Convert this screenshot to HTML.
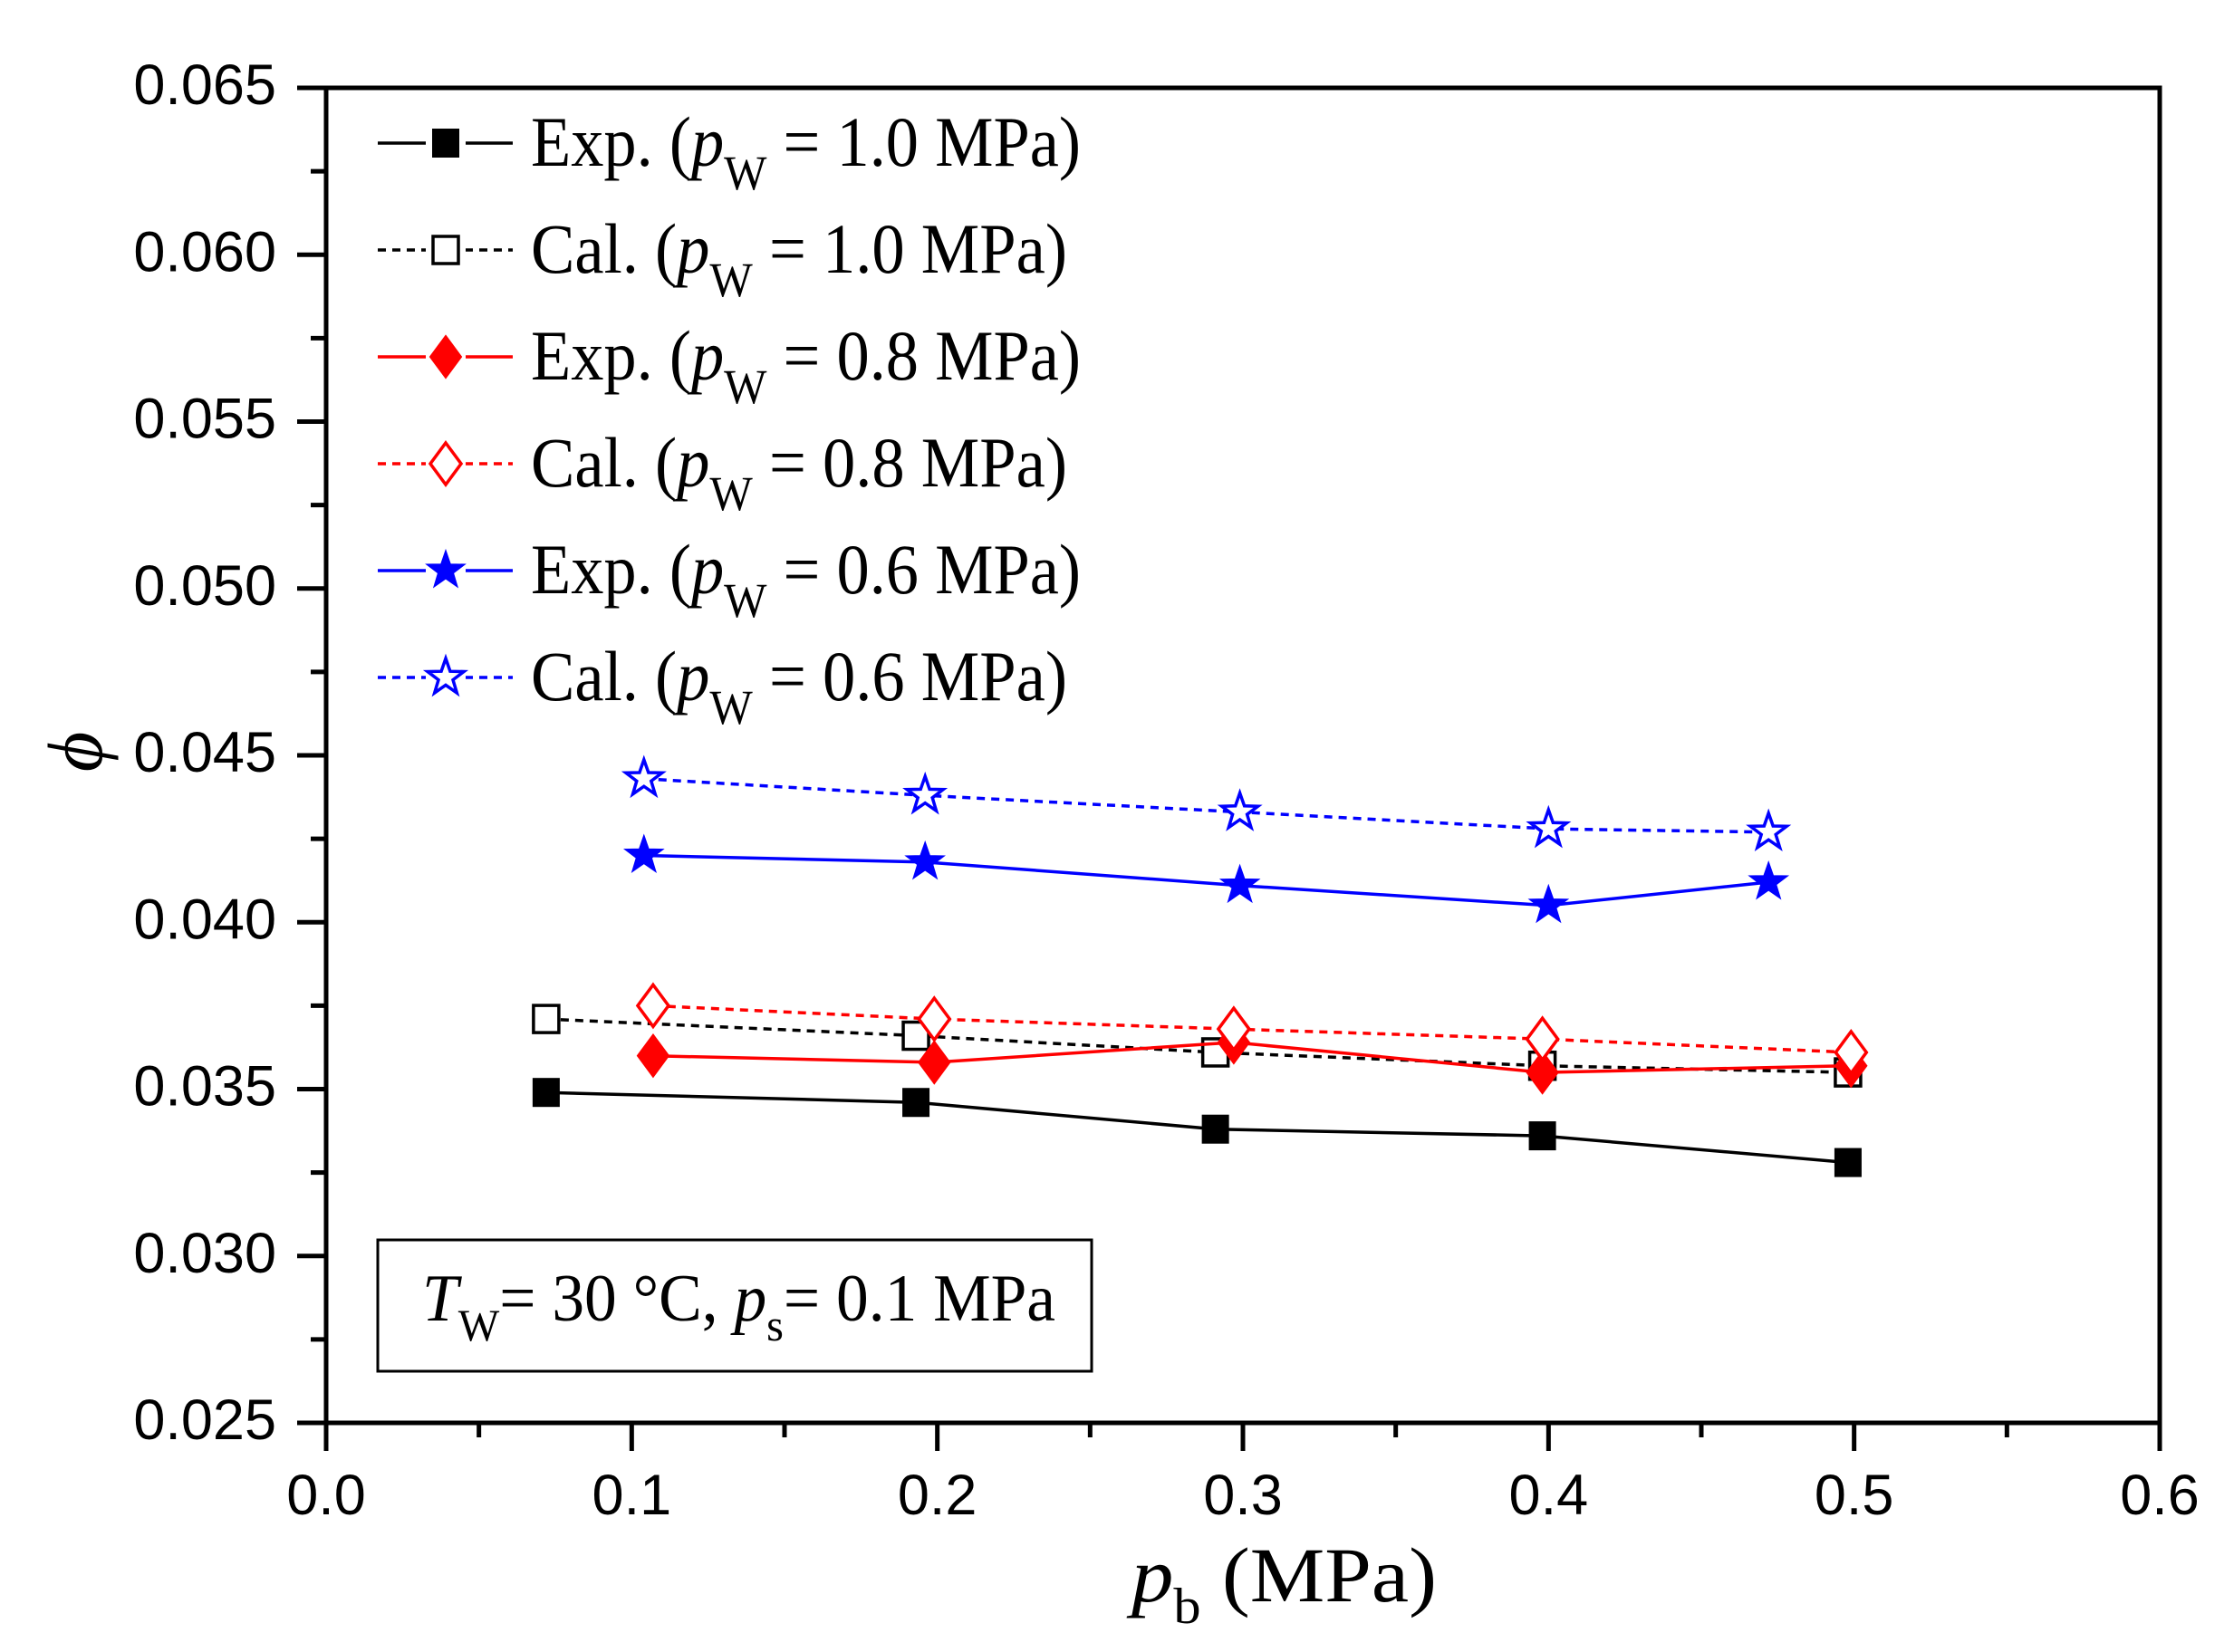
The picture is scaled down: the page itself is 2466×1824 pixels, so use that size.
<!DOCTYPE html>
<html><head><meta charset="utf-8"><style>
html,body{margin:0;padding:0;background:#fff;}
svg{display:block;}
.tk{font-family:"Liberation Sans",Arial,sans-serif;font-size:63px;fill:#000;}
.tm{font-family:"Liberation Serif","Times New Roman",serif;fill:#000;}
</style></head><body>
<svg id="chart" width="2466" height="1824" viewBox="0 0 2466 1824" xmlns="http://www.w3.org/2000/svg">
<rect width="2466" height="1824" fill="#fff"/>
<g id="plot"></g>
<rect x="360" y="97" width="2024" height="1474" fill="none" stroke="#000" stroke-width="5"/>
<g id="axes"></g>
<g id="legend"></g>
<g>
<rect x="417" y="1369" width="788" height="145" fill="#fff" stroke="#000" stroke-width="3"/>
<text class="tm" x="466" y="1458" font-size="74" textLength="699" lengthAdjust="spacingAndGlyphs"><tspan font-style="italic">T</tspan><tspan font-size="50" dy="22">W</tspan><tspan dy="-22">= 30 °C, </tspan><tspan font-style="italic">p</tspan><tspan font-size="50" dy="22">s</tspan><tspan dy="-22">= 0.1 MPa</tspan></text>
</g>
<text class="tm" x="1249" y="1768" font-size="86" textLength="337" lengthAdjust="spacingAndGlyphs"><tspan font-style="italic">p</tspan><tspan font-size="56" dy="24">b</tspan><tspan dy="-24"> (MPa)</tspan></text>
<text class="tm" font-style="italic" font-size="86" transform="translate(112,830) rotate(-90)" text-anchor="middle">ϕ</text>
</svg>
<script>
const xExp10=[0.072,0.193,0.291,0.398,0.498];
const yExp10=[0.0349,0.0346,0.0338,0.0336,0.0328];
const xCal10=[0.072,0.193,0.291,0.398,0.498];
const yCal10=[0.0371,0.0366,0.0361,0.0357,0.0355];
const xExp08=[0.107,0.199,0.297,0.398,0.499];
const yExp08=[0.0360,0.0358,0.0364,0.0355,0.0357];
const xCal08=[0.107,0.199,0.297,0.398,0.499];
const yCal08=[0.0375,0.0371,0.0368,0.0365,0.0361];
const xExp06=[0.104,0.196,0.299,0.400,0.472];
const yExp06=[0.0420,0.0418,0.0411,0.0405,0.0412];
const xCal06=[0.104,0.196,0.299,0.400,0.472];
const yCal06=[0.0443,0.0438,0.0433,0.0428,0.0427];
const xTicks=["0.0","0.1","0.2","0.3","0.4","0.5","0.6"];
const yTicks=["0.025","0.030","0.035","0.040","0.045","0.050","0.055","0.060","0.065"];

const NS="http://www.w3.org/2000/svg";
const X0=360,X1=2384,Y0=1571,Y1=97;
const sx=v=>X0+(v-0)/(0.6)*(X1-X0);
const sy=v=>Y0-(v-0.025)/(0.04)*(Y0-Y1);
function mk(tag,attrs,parent){const e=document.createElementNS(NS,tag);for(const k in attrs)e.setAttribute(k,attrs[k]);parent.appendChild(e);return e;}
const plot=document.getElementById('plot'),axes=document.getElementById('axes'),leg=document.getElementById('legend');

function starPts(cx,cy,R){let p=[];for(let i=0;i<10;i++){const r=i%2?R*0.4:R;const a=-Math.PI/2+i*Math.PI/5;p.push((cx+r*Math.cos(a)).toFixed(1)+','+(cy+r*Math.sin(a)).toFixed(1));}return p.join(' ');}
function marker(type,cx,cy,color,filled,parent){
  let e;
  if(type==='sq'){e=mk('rect',{x:cx-14,y:cy-15,width:28,height:30},parent);}
  else if(type==='dm'){e=mk('polygon',{points:`${cx},${cy-23} ${cx+17},${cy} ${cx},${cy+23} ${cx-17},${cy}`},parent);}
  else {e=mk('polygon',{points:starPts(cx,cy,21)},parent);}
  e.setAttribute('fill',filled?color:'#fff');e.setAttribute('stroke',color);e.setAttribute('stroke-width',filled?2:3.5);
  return e;
}
const series=[
 {n:'exp-1-0',xs:xExp10,ys:yExp10,c:'#000',d:false,m:'sq',f:true,lab:'Exp.',pw:'1.0'},
 {n:'cal-1-0',xs:xCal10,ys:yCal10,c:'#000',d:true,m:'sq',f:false,lab:'Cal.',pw:'1.0'},
 {n:'exp-0-8',xs:xExp08,ys:yExp08,c:'#ff0000',d:false,m:'dm',f:true,lab:'Exp.',pw:'0.8'},
 {n:'cal-0-8',xs:xCal08,ys:yCal08,c:'#ff0000',d:true,m:'dm',f:false,lab:'Cal.',pw:'0.8'},
 {n:'exp-0-6',xs:xExp06,ys:yExp06,c:'#0000ff',d:false,m:'st',f:true,lab:'Exp.',pw:'0.6'},
 {n:'cal-0-6',xs:xCal06,ys:yCal06,c:'#0000ff',d:true,m:'st',f:false,lab:'Cal.',pw:'0.6'}];
series.forEach((s,si)=>{
  const g=mk('g',{},plot);
  
  
  const pts=s.xs.map((x,i)=>sx(x).toFixed(1)+','+sy(s.ys[i]).toFixed(1)).join(' ');
  const l=mk('polyline',{points:pts,fill:'none',stroke:s.c,'stroke-width':3.5},g);
  if(s.d)l.setAttribute('stroke-dasharray','9,7');
  
  
  s.xs.forEach((x,i)=>{const m=marker(s.m,sx(x),sy(s.ys[i]),s.c,s.f,g);
    
    });
  const ly=158+si*118;
  const lg=mk('g',{},leg);
  
  
  const ll=mk('line',{x1:417,y1:ly,x2:566,y2:ly,stroke:s.c,'stroke-width':3.5},lg);
  if(s.d)ll.setAttribute('stroke-dasharray','9,7');
  mk('rect',{x:470,y:ly-26,width:44,height:52,fill:'#fff'},lg);
  marker(s.m,492,ly,s.c,s.f,lg);
  const t=mk('text',{x:586,y:ly+25,'font-size':78,class:'tm',textLength:(s.lab==='Exp.'?607:592),lengthAdjust:'spacingAndGlyphs'},lg);
  t.innerHTML=`${s.lab} (<tspan font-style="italic">p</tspan><tspan font-size="54" dy="26">W</tspan><tspan dy="-26"> = ${s.pw} MPa)</tspan>`;
});
yTicks.forEach((lab,i)=>{const v=parseFloat(lab),y=sy(v);
  const tl=mk('line',{x1:X0-32,y1:y,x2:X0,y2:y,stroke:'#000','stroke-width':5},axes);
  
  
  const t=mk('text',{x:305,y:y+18,'text-anchor':'end',class:'tk'},axes);t.textContent=lab;
  
  
  if(i<yTicks.length-1){const ym=sy(v+0.0025);mk('line',{x1:X0-17,y1:ym,x2:X0,y2:ym,stroke:'#000','stroke-width':5},axes);}
});
xTicks.forEach((lab,i)=>{const v=parseFloat(lab),x=sx(v);
  const tl=mk('line',{x1:x,y1:Y0,x2:x,y2:Y0+31,stroke:'#000','stroke-width':5},axes);
  
  
  const t=mk('text',{x:x,y:1672,'text-anchor':'middle',class:'tk'},axes);t.textContent=lab;
  
  
  if(i<xTicks.length-1){const xm=sx(v+0.05);mk('line',{x1:xm,y1:Y0,x2:xm,y2:Y0+16,stroke:'#000','stroke-width':5},axes);}
});
</script>
</body></html>
